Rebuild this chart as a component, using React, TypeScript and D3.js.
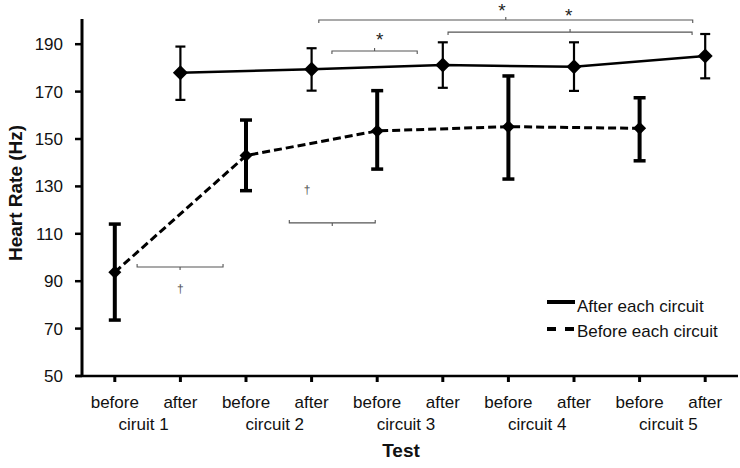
import React from "react";
import * as d3 from "d3";

const categories = ["before1", "after1", "before2", "after2", "before3", "after3", "before4", "after4", "before5", "after5"];
const tickTop = ["before", "after", "before", "after", "before", "after", "before", "after", "before", "after"];
const circuitLabels = ["ciruit 1", "circuit 2", "circuit 3", "circuit 4", "circuit 5"];
const yTicks = [50, 70, 90, 110, 130, 150, 170, 190];

const afterCats = ["after1", "after2", "after3", "after4", "after5"];
const afterMean = [178, 179.4, 181.2, 180.5, 185];
const afterHigh = [189, 188.3, 190.8, 190.8, 194.3];
const afterLow = [166.5, 170.4, 171.6, 170.3, 175.6];

const beforeCats = ["before1", "before2", "before3", "before4", "before5"];
const beforeMean = [93.8, 143, 153.4, 155.2, 154.5];
const beforeHigh = [114.1, 158, 170.4, 176.6, 167.4];
const beforeLow = [73.6, 128.2, 137.3, 133.1, 140.8];

// significance brackets: start/end in category index units, level in Hz
const bracketStart = [3.11, 5.08, 3.31, 0.34, 2.66];
const bracketEnd = [8.81, 8.8, 4.61, 1.65, 3.97];
const bracketLevel = [200.2, 195.1, 187.1, 96.0, 114.6];
const bracketSide = ["top", "top", "top", "bottom", "bottom"];
const markText = ["*", "*", "*", "†", "†"];
const markX = [5.9, 6.92, 4.04, 1.0, 2.93];
const markY = [206.3, 204.2, 193.7, 86.7, 128.5];

const legendLabels = ["After each circuit", "Before each circuit"];

const W = 740, H = 468;
const left = 82, right = 738, top = 20.5, bottom = 376;
const FONT = "'Liberation Sans', Arial, sans-serif";

export default function App() {
  const x = d3.scaleBand<string>().domain(categories).range([left, right]).paddingInner(0).paddingOuter(0);
  const bw = x.bandwidth();
  const cx = (c: string) => (x(c) as number) + bw / 2;
  const xi = (i: number) => left + bw * (i + 0.5);
  const y = d3.scaleLinear().domain([50, 200]).range([bottom, top]);

  const line = d3.line<[number, number]>().x(d => d[0]).y(d => d[1]);
  const afterPts: [number, number][] = afterCats.map((c, i) => [cx(c), y(afterMean[i])]);
  const beforePts: [number, number][] = beforeCats.map((c, i) => [cx(c), y(beforeMean[i])]);
  const diamond = (r: number) => `M0,${-r}L${r},0L0,${r}L${-r},0Z`;

  return (
    <svg width={W} height={H} style={{ position: "absolute", left: 0, top: 0, background: "#fff" }} fontFamily={FONT}>
      <rect width={W} height={H} fill="#fff" />
      {/* brackets */}
      {bracketStart.map((s, i) => {
        const x1 = xi(s), x2 = xi(bracketEnd[i]), yy = y(bracketLevel[i]);
        const dir = bracketSide[i] === "top" ? 1 : -1;
        const mid = (x1 + x2) / 2;
        return (
          <g key={"b" + i} stroke="#555" strokeWidth={1.1} fill="none">
            <path d={`M${x1},${yy + 3 * dir}V${yy}H${x2}V${yy + 3 * dir}`} />
            <path d={`M${mid},${yy}V${yy - 3 * dir}`} />
          </g>
        );
      })}
      {markText.map((t, i) => {
        const star = t === "*";
        const fs = star ? 19 : 12;
        return (
          <text key={"m" + i} x={xi(markX[i])} y={y(markY[i]) + (star ? 0.58 : 0.33) * fs} textAnchor="middle"
            fontSize={fs} fill={star ? "#222" : "#555"} style={{ textRendering: "geometricPrecision" }}>{t}</text>
        );
      })}

      {/* axes */}
      <line x1={left} x2={left} y1={top - 1.5} y2={bottom} stroke="#000" strokeWidth={3} />
      <line x1={left - 6} x2={right} y1={bottom} y2={bottom} stroke="#000" strokeWidth={2.5} />
      {yTicks.map(t => (
        <g key={"y" + t}>
          <line x1={left - 7} x2={left} y1={y(t)} y2={y(t)} stroke="#000" strokeWidth={2.5} />
          <text x={63} y={y(t)} dy="0.35em" textAnchor="end" fontSize={17} fill="#111">{t}</text>
        </g>
      ))}
      {categories.map((c, i) => (
        <g key={"x" + c}>
          <line x1={cx(c)} x2={cx(c)} y1={bottom} y2={bottom + 6} stroke="#000" strokeWidth={3} />
          <text x={cx(c)} y={408} textAnchor="middle" fontSize={17} fill="#111">{tickTop[i]}</text>
        </g>
      ))}
      {circuitLabels.map((l, i) => (
        <text key={"c" + i} x={(cx(categories[2 * i]) + cx(categories[2 * i + 1])) / 2 - 4} y={430}
          textAnchor="middle" fontSize={17} fill="#111">{l}</text>
      ))}
      <text x={401} y={457} textAnchor="middle" fontSize={19} fontWeight="bold" fill="#111">Test</text>
      <text transform={`translate(22,193) rotate(-90)`} textAnchor="middle" fontSize={19} fontWeight="bold" fill="#111">Heart Rate (Hz)</text>

      {/* before series */}
      <path d={line(beforePts) || ""} fill="none" stroke="#000" strokeWidth={3} strokeDasharray="8,4" />
      {beforeCats.map((c, i) => (
        <g key={"be" + c} stroke="#000">
          <line x1={cx(c)} x2={cx(c)} y1={y(beforeHigh[i])} y2={y(beforeLow[i])} strokeWidth={4} />
          <line x1={cx(c) - 6} x2={cx(c) + 6} y1={y(beforeHigh[i])} y2={y(beforeHigh[i])} strokeWidth={3.5} />
          <line x1={cx(c) - 6} x2={cx(c) + 6} y1={y(beforeLow[i])} y2={y(beforeLow[i])} strokeWidth={3.5} />
        </g>
      ))}
      {beforePts.map((p, i) => (
        <path key={"bm" + i} d={diamond(6.5)} transform={`translate(${p[0]},${p[1]})`} fill="#000" />
      ))}

      {/* after series */}
      <path d={line(afterPts) || ""} fill="none" stroke="#000" strokeWidth={2.5} />
      {afterCats.map((c, i) => (
        <g key={"ae" + c} stroke="#000">
          <line x1={cx(c)} x2={cx(c)} y1={y(afterHigh[i])} y2={y(afterLow[i])} strokeWidth={2.2} />
          <line x1={cx(c) - 5} x2={cx(c) + 5} y1={y(afterHigh[i])} y2={y(afterHigh[i])} strokeWidth={2.2} />
          <line x1={cx(c) - 5} x2={cx(c) + 5} y1={y(afterLow[i])} y2={y(afterLow[i])} strokeWidth={2.2} />
        </g>
      ))}
      {afterPts.map((p, i) => (
        <path key={"am" + i} d={diamond(7.5)} transform={`translate(${p[0]},${p[1]})`} fill="#000" />
      ))}

      {/* legend */}
      <g>
        <line x1={547} x2={575} y1={302} y2={302} stroke="#000" strokeWidth={4} />
        <text x={577} y={312} fontSize={17} fill="#111">{legendLabels[0]}</text>
        <line x1={547} x2={575} y1={329} y2={329} stroke="#000" strokeWidth={4} strokeDasharray="9,9" />
        <text x={577} y={337} fontSize={17} fill="#111">{legendLabels[1]}</text>
      </g>
    </svg>
  );
}
